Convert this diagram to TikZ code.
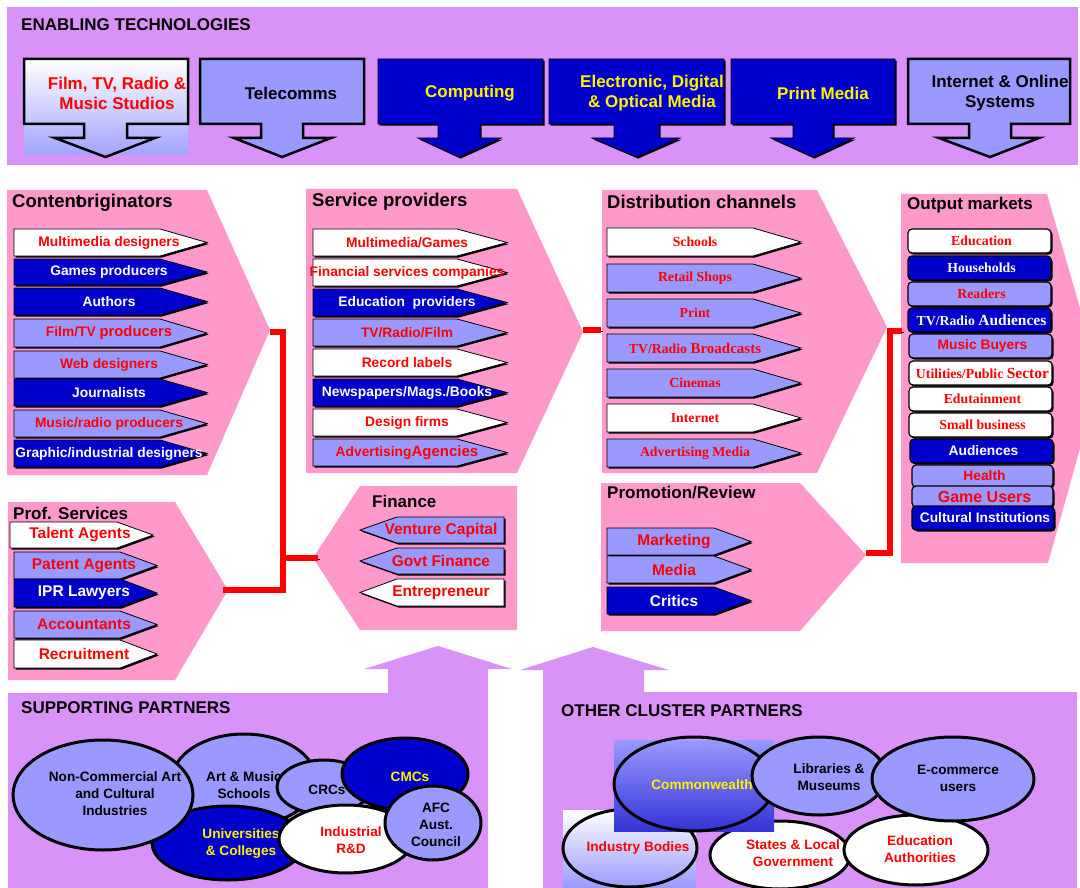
\documentclass[tikz,border=0pt]{standalone}
\usepackage{fontspec}
\setmainfont{Liberation Sans}
\newfontfamily\tms{Liberation Serif}

\definecolor{bandlilac}{HTML}{D993F8}
\definecolor{panelpink}{HTML}{FF99CC}
\definecolor{lightblue}{HTML}{9999FF}
\definecolor{darkblue}{HTML}{0000CC}

% item arrow: name, y top, y bottom, fill, text colour, label
\newcommand{\rarrow}[6]{%
  \draw[itm, fill=#4] (\ixa,#2) -- (\ixb,#2) -- (\ixt,{(#2+#3)/2}) -- (\ixb,#3) -- (\ixa,#3) -- cycle;
  \node[itmtxt, text=#5] (#1) at (\itx,{(#2+#3)/2}) {#6};}
% market box: name, x1, x2, y1, y2, fill, text colour, label
\newcommand{\obox}[8]{%
  \draw[obx, fill=#6] (#2,#4) rectangle (#3,#5);
  \node[itmtxt, text=#7] (#1) at ({(#2+#3)/2+2},{(#4+#5)/2}) {#8};}
% down arrow: style, x1, x2, stem left, stem right, head left, head right
\newcommand{\dnarrow}[7]{%
  \draw[#1] (#2,59) -- (#3,59) -- (#3,124) -- (#5,124) -- (#5,138) -- (#7,138)
    -- ({(#4+#5)/2},157) -- (#6,138) -- (#4,138) -- (#4,124) -- (#2,124) -- cycle;}

\begin{document}
\begin{tikzpicture}[x=1pt,y=1pt,yscale=-1,
    sh/.style={preaction={fill=black, transform canvas={shift={(1.6pt,-1.6pt)}}}},
    itm/.style={sh, draw=black, line width=0.8pt},
    obx/.style={sh, draw=black, line width=1.2pt, rounded corners=4pt},
    itmtxt/.style={inner sep=0pt, font=\bfseries\fontsize{13.8}{15}\selectfont},
    ttl/.style={anchor=west, inner sep=0pt, font=\bfseries\fontsize{18.5}{20}\selectfont},
    subttl/.style={anchor=west, inner sep=0pt, font=\bfseries\fontsize{17}{20}\selectfont},
    toplbl/.style={inner sep=0pt, align=center, font=\bfseries\fontsize{17}{20}\selectfont},
    ltarrow/.style={draw=black, line width=2.5pt, fill=lightblue},
    dkarrow/.style={sh, draw=black, line width=0.8pt, fill=darkblue},
    ell/.style={draw=black, line width=3pt},
    elltxt/.style={inner sep=0pt, align=center, font=\bfseries\fontsize{13.6}{17}\selectfont},
    redlink/.style={draw=red, line width=6.5pt, preaction={draw=black, transform canvas={shift={(1.5pt,-1.5pt)}}}}]
    \useasboundingbox (0,0) rectangle (1080,888);

    %Enabling technologies band
    \fill[bandlilac] (7,7) rectangle (1078,165);
    \node[subttl] (enab) at (21,25) {ENABLING TECHNOLOGIES};

    %Down arrows
    \shade[top color=white, bottom color=lightblue!90] (24,59) rectangle (188,155);
    \dnarrow{ltarrow, fill=none}{24}{188}{84}{127}{55}{155}
    \dnarrow{ltarrow}{200}{364}{261}{303}{234}{331}
    \dnarrow{dkarrow}{378}{543}{438}{480}{418}{501}
    \dnarrow{dkarrow}{549}{724}{614}{659}{592}{680}
    \dnarrow{dkarrow}{731}{895}{793}{833}{771}{854}
    \dnarrow{ltarrow}{908}{1070}{969}{1011}{939}{1039}
    \node[toplbl, text=red] (studios) at (117,93) {Film, TV, Radio \&\\Music Studios};
    \node[toplbl] (telecom) at (291,93) {Telecomms};
    \node[toplbl, text=yellow] (computing) at (470,93) {Computing};
    \node[toplbl, text=yellow] (optical) at (652,93) {Electronic, Digital\\\& Optical Media};
    \node[toplbl, text=yellow] (printmedia) at (823,93) {Print Media};
    \node[toplbl] (online) at (1000,93) {Internet \& Online\\Systems};

    %Panels
    \fill[panelpink] (7,190) -- (207,190) -- (270,330) -- (207,475) -- (7,475) -- cycle;
    \fill[panelpink] (306,189) -- (517,189) -- (583,332) -- (517,473) -- (306,473) -- cycle;
    \fill[panelpink] (602,190) -- (817,190) -- (887,327) -- (817,473) -- (602,473) -- cycle;
    \fill[panelpink] (901,194) -- (1047,194) -- (1100,377) -- (1048,563) -- (901,563) -- cycle;
    \fill[panelpink] (8,502) -- (175,502) -- (228,590) -- (175,680) -- (8,680) -- cycle;
    \fill[panelpink] (517,486) -- (360,486) -- (313,558) -- (360,630) -- (517,630) -- cycle;
    \fill[panelpink] (601,483) -- (800,483) -- (866,555) -- (800,631) -- (601,631) -- cycle;

    \node[ttl] (origttl) at (12,203) {Conten\rlap{t}originators};
    \node[ttl] (servttl) at (312,202) {Service providers};
    \node[ttl] (distttl) at (607,202) {Distribution channels};
    \node[subttl] (outttl) at (907,205) {Output markets};
    \node[subttl] (profttl) at (13,513) {Prof. Services};
    \node[subttl] (finttl) at (372,501) {Finance};
    \node[subttl] (promttl) at (607,493) {Promotion/Review};

    %Content originators
    \begin{scope}
    \def\ixa{14}\def\ixb{160}\def\ixt{207}\def\itx{109}
    \rarrow{mmdes}{229}{256}{white}{red}{Multimedia designers}
    \rarrow{games}{259}{285}{darkblue}{white}{Games producers}
    \rarrow{authors}{288}{315}{darkblue}{white}{Authors}
    \rarrow{filmtv}{319}{347}{lightblue}{red}{Film/TV {\fontsize{14.8}{15}\selectfont producers}}
    \rarrow{webdes}{351}{378}{lightblue}{red}{Web designers}
    \rarrow{journ}{379}{406}{darkblue}{white}{Journalists}
    \rarrow{musprod}{410}{437}{lightblue}{red}{Music/radio producers}
    \rarrow{graphic}{440}{467}{darkblue}{white}{Graphic/industrial designers}
    \end{scope}

    %Service providers
    \begin{scope}
    \def\ixa{313}\def\ixb{457}\def\ixt{507}\def\itx{407}
    \rarrow{mmgames}{229}{256}{white}{red}{Multimedia/Games}
    \rarrow{finserv}{259}{286}{white}{red}{Financial services companies}
    \rarrow{edprov}{289}{316}{darkblue}{white}{Education\ \ providers}
    \rarrow{tvfilm}{319}{346}{lightblue}{red}{TV/Radio/Film}
    \rarrow{record}{349}{376}{white}{red}{Record labels}
    \rarrow{news}{379}{406}{darkblue}{white}{Newspapers/Mags./Books}
    \rarrow{design}{409}{436}{white}{red}{Design firms}
    \rarrow{advag}{439}{466}{lightblue}{red}{Advertising{\fontsize{15}{15}\selectfont Agencies}}
    \end{scope}

    %Distribution channels
    \begin{scope}[itmtxt/.append style={font=\tms\bfseries\fontsize{13.8}{15}\selectfont}]
    \def\ixa{607}\def\ixb{753}\def\ixt{801}\def\itx{695}
    \rarrow{schools}{228}{256}{white}{red}{Schools}
    \rarrow{retail}{264}{292}{lightblue}{red}{Retail Shops}
    \rarrow{print}{299}{327}{lightblue}{red}{Print}
    \rarrow{broadc}{334}{362}{lightblue}{red}{TV/Radio {\fontsize{15}{15}\selectfont Broadcasts}}
    \rarrow{cinemas}{369}{397}{lightblue}{red}{Cinemas}
    \rarrow{internet}{404}{432}{white}{red}{Internet}
    \rarrow{admedia}{439}{467}{lightblue}{red}{Advertising Media}
    \end{scope}

    %Output markets
    \obox{educ}{908}{1051}{229}{253}{white}{red}{\tms Education}
    \obox{house}{908}{1051}{256}{280}{darkblue}{white}{\tms Households}
    \obox{readers}{908}{1051}{282}{306}{lightblue}{red}{\tms Readers}
    \obox{tvaud}{908}{1051}{308}{332}{darkblue}{white}{\tms TV/Radio {\fontsize{15.5}{16}\selectfont Audiences}}
    \obox{musbuy}{909}{1052}{334}{358}{lightblue}{red}{Music Buyers}
    \obox{util}{909}{1052}{361}{385}{white}{red}{\tms Utilities/Public {\fontsize{15.5}{16}\selectfont Sector}}
    \obox{edut}{909}{1052}{387}{411}{white}{red}{\tms Edutainment}
    \obox{smallbiz}{909}{1052}{413}{437}{white}{red}{\tms Small business}
    \obox{aud}{910}{1053}{439}{463}{darkblue}{white}{Audiences}
    \obox{health}{912}{1053}{465}{487}{lightblue}{red}{Health}
    \obox{gameusr}{912}{1053}{486}{507}{lightblue}{red}{\fontsize{16}{16}\selectfont Game Users}
    \obox{cultural}{912}{1054}{506}{530}{darkblue}{white}{Cultural Institutions}

    %Prof. services
    \begin{scope}[itmtxt/.append style={font=\bfseries\fontsize{15.5}{17}\selectfont}]
    \def\ixa{10}\def\ixb{117}\def\ixt{153}\def\itx{80}
    \rarrow{talent}{522}{548}{white}{red}{Talent Agents}
    \def\ixa{14}\def\ixb{120}\def\ixt{157}\def\itx{84}
    \rarrow{patent}{552}{579}{lightblue}{red}{Patent Agents}
    \rarrow{ipr}{579}{607}{darkblue}{white}{IPR Lawyers}
    \rarrow{accts}{611}{638}{lightblue}{red}{Accountants}
    \rarrow{recruit}{640}{668}{white}{red}{Recruitment}
    %Finance
    \def\ixa{504}\def\ixb{397}\def\ixt{360}\def\itx{441}
    \rarrow{venture}{517}{543}{lightblue}{red}{Venture Capital}
    \rarrow{govt}{548}{574}{lightblue}{red}{Govt Finance}
    \rarrow{entre}{579}{606}{white}{red}{Entrepreneur}
    %Promotion/Review
    \def\ixa{607}\def\ixb{714}\def\ixt{751}\def\itx{674}
    \rarrow{marketing}{528}{555}{lightblue}{red}{Marketing}
    \rarrow{media}{556}{583}{lightblue}{red}{Media}
    \rarrow{critics}{587}{614}{darkblue}{white}{Critics}
    \end{scope}

    %Red links
    \coordinate (co-tip) at (270,332);
    \coordinate (cj) at (283,332);
    \coordinate (cj2) at (283,590);
    \coordinate (ps-tip) at (223,590);
    \coordinate (fin-tip) at (318,558);
    \coordinate (sp-tip) at (583,330);
    \coordinate (dc-in) at (601,330);
    \coordinate (om-in) at (902,331);
    \coordinate (oj) at (890,331);
    \coordinate (oj2) at (890,553);
    \coordinate (pr-tip) at (866,553);
    \draw[redlink] (co-tip) -- (cj) -- (cj2) -- (ps-tip);
    \draw[redlink] (cj |- fin-tip) -- (fin-tip);
    \draw[redlink] (sp-tip) -- (dc-in);
    \draw[redlink] (om-in) -- (oj) -- (oj2) -- (pr-tip);

    %Partner boxes with up arrows
    \fill[bandlilac] (8,693) -- (388,693) -- (388,669) -- (364,669) -- (438,646) -- (512,669) -- (488,669) -- (488,888) -- (8,888) -- cycle;
    \fill[bandlilac] (543,888) -- (543,670) -- (520,670) -- (593,647) -- (669,670) -- (644,670) -- (644,692) -- (1077,692) -- (1077,888) -- cycle;
    \node[subttl] (suppttl) at (21,708) {SUPPORTING PARTNERS};
    \node[subttl] (othttl) at (561,711) {OTHER CLUSTER PARTNERS};

    %Supporting partners
    \draw[ell, fill=lightblue] (244,780) ellipse [x radius=72, y radius=46];
    \node[elltxt] (artmus) at (244,785) {Art \& Music\\Schools};
    \draw[ell, fill=darkblue] (228,843) ellipse [x radius=76, y radius=37];
    \node[elltxt, text=yellow] (univ) at (241,844) {Universities\\\& Colleges};
    \draw[ell, fill=lightblue] (103,795) ellipse [x radius=90, y radius=55];
    \node[elltxt] (ncart) at (115,794) {Non-Commercial Art\\and Cultural\\Industries};
    \draw[ell, fill=lightblue] (324,787) ellipse [x radius=47, y radius=27];
    \node[elltxt] (crcs) at (327,790) {CRCs};
    \draw[ell, fill=darkblue] (405,774) ellipse [x radius=63, y radius=36];
    \node[elltxt, text=yellow] (cmcs) at (410,777) {CMCs};
    \draw[ell, fill=white] (346,839) ellipse [x radius=67, y radius=34];
    \node[elltxt, text=red] (indrd) at (351,840) {Industrial\\R\&D};
    \draw[ell, fill=lightblue] (433,823) ellipse [x radius=48, y radius=37];
    \node[elltxt] (afc) at (436,825) {AFC\\Aust.\\Council};

    %Other cluster partners
    \shade[top color=white, bottom color=lightblue] (563,810) rectangle (696,888);
    \draw[ell] (630,848) ellipse [x radius=67, y radius=39];
    \node[elltxt, text=red] (indbod) at (638,848) {Industry Bodies};
    \draw[ell, fill=white] (780,855) ellipse [x radius=70, y radius=34];
    \node[elltxt, text=red] (states) at (793,853) {States \& Local\\Government};
    \shade[top color=lightblue, bottom color=darkblue!80] (614,740) rectangle (774,831);
    \draw[ell] (694,784) ellipse [x radius=80, y radius=47];
    \node[elltxt, text=yellow] (cwlth) at (702,785) {Commonwealth};
    \draw[ell, fill=white] (916,850) ellipse [x radius=72, y radius=35];
    \node[elltxt, text=red] (edauth) at (920,849) {Education\\Authorities};
    \draw[ell, fill=lightblue] (819,776) ellipse [x radius=67, y radius=39];
    \node[elltxt] (libmus) at (829,777) {Libraries \&\\Museums};
    \draw[ell, fill=lightblue] (953,779) ellipse [x radius=81, y radius=42];
    \node[elltxt] (ecom) at (958,778) {E-commerce\\users};
\end{tikzpicture}
\end{document}
